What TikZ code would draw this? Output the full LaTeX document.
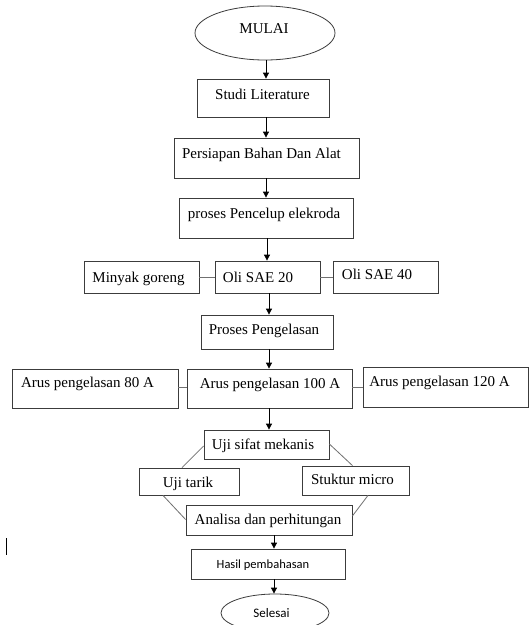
\documentclass[tikz,border=0pt]{standalone}
\usepackage{fontspec}
\setmainfont{Liberation Serif}
\newfontfamily\calibrifont{Carlito}
\usetikzlibrary{arrows.meta,shapes.geometric}
\definecolor{bordercol}{HTML}{3C3C3C}
\definecolor{linkcol}{HTML}{707070}
\tikzset{
  box/.style={draw=bordercol, line width=0.8pt, inner sep=0pt, fill=white},
  oval/.style={ellipse, draw=bordercol, line width=0.8pt, inner sep=0pt},
  txt/.style={inner sep=0pt, anchor=base, font=\fontsize{15}{18}\selectfont},
  sanstxt/.style={inner sep=0pt, anchor=base, font=\calibrifont\fontsize{12.5}{15}\selectfont},
  arr/.style={-{Triangle[length=6pt,width=6pt]}, line width=0.8pt, black},
  link/.style={line width=0.8pt, linkcol},
}
\begin{document}
\begin{tikzpicture}[x=1pt,y=-1pt]
\useasboundingbox (0,0) rectangle (529,625);
\clip (0,0) rectangle (529,625);
\fill[white] (0,0) rectangle (529,625);

% shapes
\node[oval, minimum width=140pt, minimum height=54pt] (mulai) at (265,33) {};
\node[box, minimum width=132pt, minimum height=38pt] (studi) at (263,98) {};
\node[box, minimum width=185pt, minimum height=40pt] (persiapan) at (266.5,158) {};
\node[box, minimum width=174pt, minimum height=40pt] (pencelup) at (266,218) {};
\node[box, minimum width=105pt, minimum height=32pt] (oli20) at (267.5,277) {};
\node[box, minimum width=115pt, minimum height=32pt] (minyak) at (141.5,277) {};
\node[box, minimum width=105pt, minimum height=32pt] (oli40) at (385.5,277) {};
\node[box, minimum width=132pt, minimum height=34pt] (pengelasan) at (267,332) {};
\node[box, minimum width=166pt, minimum height=39pt] (arus80) at (95,388.5) {};
\node[box, minimum width=165pt, minimum height=39pt] (arus100) at (269.5,388.5) {};
\node[box, minimum width=165pt, minimum height=40pt] (arus120) at (445.5,387) {};
\node[box, minimum width=125pt, minimum height=29pt] (ujisifat) at (266.5,444.5) {};
\node[box, minimum width=100pt, minimum height=27pt] (ujitarik) at (189,481.5) {};
\node[box, minimum width=107pt, minimum height=29pt] (stuktur) at (355.5,480.5) {};
\node[box, minimum width=166pt, minimum height=30pt] (analisa) at (269,520) {};
\node[box, minimum width=154pt, minimum height=30pt] (hasil) at (268,564) {};
\node[oval, minimum width=108pt, minimum height=38pt] (selesai) at (275,613) {};

% texts
\node[txt] (t-mulai) at (264,33) {MULAI};
\node[txt] (t-studi) at (262.5,99.5) {Studi Literature};
\node[txt] (t-persiapan) at (261.5,158) {Persiapan Bahan Dan Alat};
\node[txt] (t-pencelup) at (264,218) {proses Pencelup elekroda};
\node[txt] (t-minyak) at (138.5,282) {Minyak goreng};
\node[txt] (t-oli20) at (258,282) {Oli SAE 20};
\node[txt] (t-oli40) at (377,279) {Oli SAE 40};
\node[txt] (t-pengelasan) at (264,334) {Proses Pengelasan};
\node[txt] (t-arus80) at (87.5,387) {Arus pengelasan 80 A};
\node[txt] (t-arus100) at (270,388) {Arus pengelasan 100 A};
\node[txt] (t-arus120) at (439.5,386) {Arus pengelasan 120 A};
\node[txt] (t-ujisifat) at (263,449) {Uji sifat mekanis};
\node[txt] (t-ujitarik) at (188,487) {Uji tarik};
\node[txt] (t-stuktur) at (352.5,484) {Stuktur micro};
\node[txt] (t-analisa) at (268,524) {Analisa dan perhitungan};
\node[sanstxt] (t-hasil) at (263,568) {Hasil pembahasan};
\node[sanstxt, font=\calibrifont\fontsize{13}{15}\selectfont] (t-selesai) at (271.5,617) {Selesai};

% guide coordinates for vertical arrows
\coordinate (c266) at (266,0);
\coordinate (c267) at (267,0);
\coordinate (c269) at (269,0);
\coordinate (c274) at (274,0);

% arrows
\draw[arr] (mulai.south -| c266) -- (studi.north -| c266);
\draw[arr] (studi.south -| c266) -- (persiapan.north -| c266);
\draw[arr] (persiapan.south -| c266) -- (pencelup.north -| c266);
\draw[arr] (pencelup.south -| c267) -- (oli20.north -| c267);
\draw[arr] (oli20.south -| c269) -- (pengelasan.north -| c269);
\draw[arr] (pengelasan.south -| c269) -- (arus100.north -| c269);
\draw[arr] (arus100.south -| c269) -- (ujisifat.north -| c269);
\draw[arr] (analisa.south -| c274) -- (hasil.north -| c274);
\draw[arr] (hasil.south -| c274) -- (selesai.north -| c274);

% side links
\draw[link] (minyak.east) -- (oli20.west);
\draw[link] (oli20.east) -- (oli40.east -| oli40.west);
\draw[link] ([yshift=1pt]arus80.east) -- ([yshift=1pt]arus100.west);
\draw[link] ([yshift=1pt]arus100.east) -- ([yshift=1pt]arus100.east -| arus120.west);

% diagonal links
\draw[link] ([yshift=-1.5pt]ujisifat.west) -- ([xshift=-7pt]ujitarik.north);
\draw[link] ([yshift=0.5pt]ujisifat.east) -- ([xshift=-3pt]stuktur.north);
\draw[link] ([xshift=-26pt]ujitarik.south) -- ([yshift=0.5pt]analisa.west);
\draw[link] ([xshift=12.5pt]stuktur.south) -- ([yshift=4pt]analisa.east);

% stray cursor mark
\draw[line width=1pt, black] (6,538) -- (6,555);
\end{tikzpicture}
\end{document}
